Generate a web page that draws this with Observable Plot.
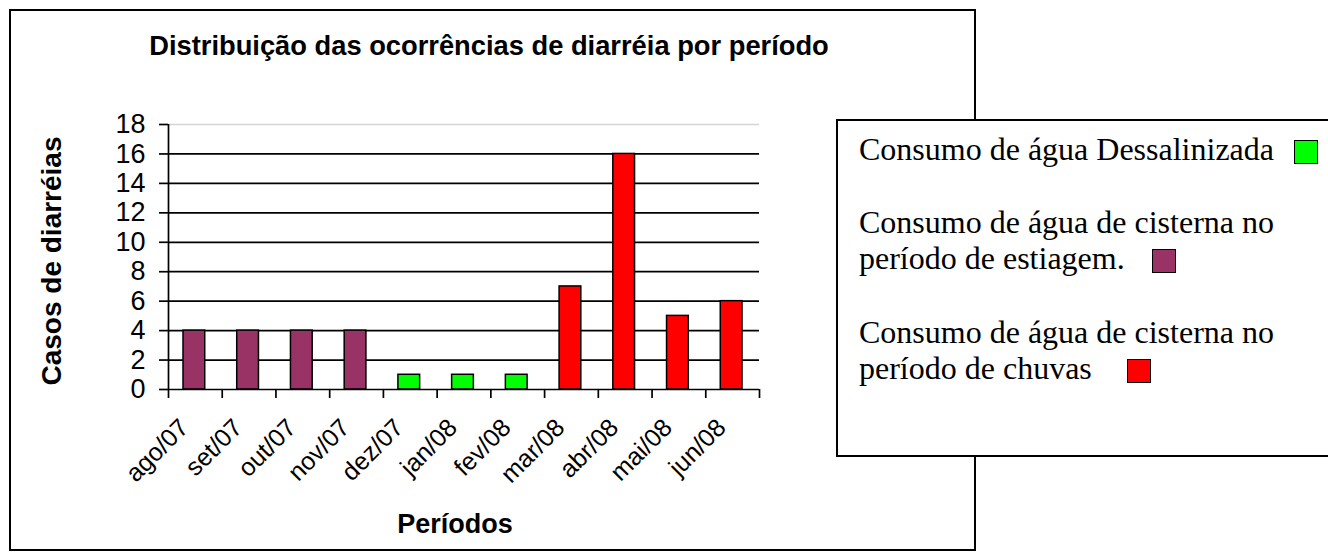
<!DOCTYPE html>
<html>
<head>
<meta charset="utf-8">
<script src="https://cdn.jsdelivr.net/npm/d3@7"></script>
<script src="https://cdn.jsdelivr.net/npm/@observablehq/plot@0.6"></script>
<style>
  html, body { margin: 0; padding: 0; background: #fff; }
  #wrap { position: relative; width: 1328px; height: 560px; overflow: hidden; font-family: "Liberation Sans", Arial, sans-serif; color: #000; }
  #outer { position: absolute; left: 9px; top: 9px; width: 967px; height: 542px; border: 2px solid #000; box-sizing: border-box; }
  #plot { position: absolute; left: 0; top: 0; }
  .t { position: absolute; font-weight: bold; white-space: nowrap; text-align: center; }
  #legend { position: absolute; left: 836px; top: 119px; width: 500px; height: 338px; border: 2px solid #000; box-sizing: border-box; background: #fff; font-family: "Liberation Serif", "Times New Roman", serif; font-size: 32px; }
  .entry { position: absolute; left: 21px; width: 470px; line-height: 36px; }
  .sw { display: inline-block; width: 22px; height: 22px; border: 1.5px solid #000; vertical-align: -4px; }
</style>
</head>
<body>
<div id="wrap">
  <div id="outer"></div>
  <div id="plot"></div>
  <div class="t" id="title" style="left:10px; width:958px; top:31px; font-size:27.3px; line-height:30px;"></div>
  <div class="t" id="ytitle" style="left:-98px; width:300px; top:246px; height:30px; font-size:28px; line-height:30px; transform: rotate(-90deg);"></div>
  <div class="t" id="xtitle" style="left:355px; width:200px; top:509px; font-size:27px; line-height:30px;"></div>
  <div id="legend"></div>
</div>
<script>
const chartTitle = "Distribuição das ocorrências de diarréia por período";
const yTitle = "Casos de diarréias";
const xTitle = "Períodos";
const periods = ["ago/07","set/07","out/07","nov/07","dez/07","jan/08","fev/08","mar/08","abr/08","mai/08","jun/08"];
const cases = [4, 4, 4, 4, 1, 1, 1, 7, 16, 5, 6];
const seriesNames = ["Consumo de água Dessalinizada", "Consumo de água de cisterna no período de estiagem.", "Consumo de água de cisterna no período de chuvas"];
const seriesColors = ["#00FF00", "#993366", "#FF0000"];
const barSeries = [1, 1, 1, 1, 0, 0, 0, 2, 2, 2, 2];
const yTicks = [0, 2, 4, 6, 8, 10, 12, 14, 16, 18];

const data = periods.map((p, i) => ({period: p, i, value: cases[i], series: seriesNames[barSeries[i]]}));
const boundaries = d3.range(0, periods.length + 1);

const chart = Plot.plot({
  width: 1328,
  height: 560,
  marginLeft: 168,
  marginRight: 569,
  marginTop: 124,
  marginBottom: 171,
  style: {fontFamily: '"Liberation Sans", Arial, sans-serif', fontSize: "27px", background: "transparent", color: "#000"},
  x: {type: "linear", domain: [0, periods.length], axis: null},
  y: {domain: [0, 18], axis: null},
  color: {type: "ordinal", domain: seriesNames, range: seriesColors},
  marks: [
    Plot.ruleY(yTicks.filter(d => d > 0 && d < 18), {stroke: "#000", strokeWidth: 1.7}),
    Plot.ruleY([18], {stroke: "#d4d4d4", strokeWidth: 1.6}),
    Plot.rectY(data, {x1: "i", x2: d => d.i + 1, y: "value", fill: "series", stroke: "#000", strokeWidth: 1.5, insetLeft: 15, insetRight: 17}),
    Plot.ruleX([0], {stroke: "#000", strokeWidth: 1.7}),
    Plot.ruleY([0], {stroke: "#000", strokeWidth: 1.7}),
    Plot.axisY({ticks: yTicks, tickSize: 9, tickPadding: 14, tickFormat: d => String(d), strokeWidth: 1.7, label: null, fontSize: 27}),
    Plot.axisX({ticks: boundaries, tickSize: 9, tickFormat: () => "", strokeWidth: 1.7, label: null}),
    Plot.text(periods, {x: (d, i) => i + 0.5, frameAnchor: "bottom", rotate: -45, textAnchor: "end", lineAnchor: "middle", dx: -11, dy: 34, fontSize: 25, fill: "#000"})
  ]
});
document.getElementById("plot").appendChild(chart);

document.getElementById("title").textContent = chartTitle;
document.getElementById("ytitle").textContent = yTitle;
document.getElementById("xtitle").textContent = xTitle;

const legendTops = [10, 83, 193];
const swatchGaps = [20, 27, 35];
const legend = document.getElementById("legend");
seriesNames.forEach((name, k) => {
  const e = document.createElement("div");
  e.className = "entry";
  e.style.top = legendTops[k] + "px";
  e.appendChild(document.createTextNode(name));
  const s = document.createElement("span");
  s.className = "sw";
  s.style.background = seriesColors[k];
  s.style.marginLeft = swatchGaps[k] + "px";
  e.appendChild(s);
  legend.appendChild(e);
});
</script>
</body>
</html>
